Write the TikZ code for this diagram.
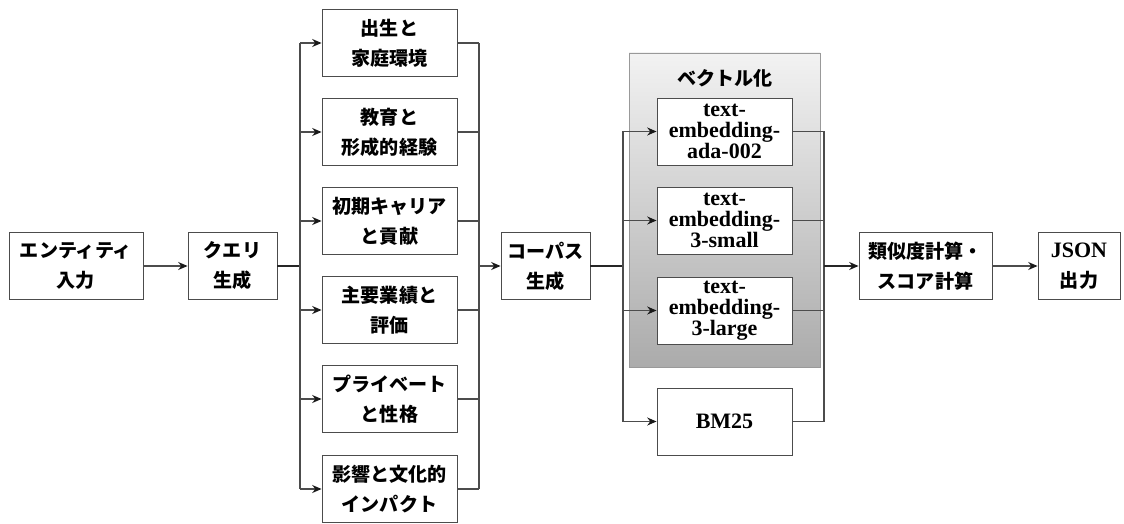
\documentclass[tikz,border=0pt]{standalone}
\usepackage{fontspec}
\setmainfont{Liberation Serif}
\newfontfamily\cjk{Noto Sans CJK JP}
\usetikzlibrary{arrows.meta}
\tikzset{
  box/.style={draw=black!70, line width=0.7pt, fill=white, align=center, inner sep=0pt,
    minimum width=101.25pt, minimum height=50.25pt,
    font=\cjk\bfseries\fontsize{14.3}{22.5}\selectfont},
  lat/.style={font=\rmfamily\bfseries\fontsize{16.5}{15.8}\selectfont},
  conn/.style={draw=black!70, line width=0.8pt},
  arr/.style={conn, -{Stealth[length=7pt,width=6pt,color=black!90]}},
}
\begin{document}
\begin{tikzpicture}[x=0.75pt,y=-0.75pt]
\useasboundingbox (0,0) rectangle (1124,524);
% group
\draw[draw=black!40, line width=0.7pt, top color=black!5, bottom color=black!33] (629,53) rectangle (820,367);
\node[font=\cjk\bfseries\fontsize{14.3}{16}\selectfont] (title) at (725,78) {ベクトル化};
% left
\node[box, minimum width=100.5pt] (ent) at (76,266) {エンティティ\\入力};
\node[box, minimum width=66.75pt] (q) at (232.5,266) {クエリ\\生成};
% column
\node[box] (c1) at (389.5,43) {出生と\\家庭環境};
\node[box] (c2) at (389.5,132) {教育と\\形成的経験};
\node[box] (c3) at (389.5,221) {初期キャリア\\と貢献};
\node[box] (c4) at (389.5,310) {主要業績と\\評価};
\node[box] (c5) at (389.5,399) {プライベート\\と性格};
\node[box] (c6) at (389.5,489) {影響と文化的\\インパクト};
\node[box, minimum width=66.75pt] (corp) at (545.5,266) {コーパス\\生成};
% vector
\node[box, lat] (v1) at (724.5,131.5) {text-\\embedding-\\ada-002};
\node[box, lat] (v2) at (724.5,220.5) {text-\\embedding-\\3-small};
\node[box, lat] (v3) at (724.5,310.5) {text-\\embedding-\\3-large};
\node[box, lat] (v4) at (724.5,421.5) {BM25};
\node[box, minimum width=99.75pt] (sim) at (925.5,266) {類似度計算・\\スコア計算};
\node[box, minimum width=61.5pt] (json) at (1079,266) {{\rmfamily\bfseries\fontsize{16.5}{16}\selectfont JSON}\\出力};
% coordinates
\coordinate (t1) at (300,266);
\coordinate (m1) at (479,266);
\coordinate (t2) at (623,266);
\coordinate (m2) at (824,266);
% connectors
\draw[arr] (ent) -- (q);
\draw[conn, line width=1.1pt, draw=black!85] (q.east) -- (t1);
\draw[conn] (t1|-c1.west) -- (t1|-c6.west);
\foreach \n in {c1,c2,c3,c4,c5,c6}{
  \draw[arr] (t1|-\n.west) -- (\n.west);
  \draw[conn] (\n.east) -- (m1|-\n.east);
}
\draw[conn] (m1|-c1.east) -- (m1|-c6.east);
\draw[arr] (m1) -- (corp);
\draw[conn, line width=1.1pt, draw=black!85] (corp.east) -- (t2);
\draw[conn] (t2|-v1.west) -- (t2|-v4.west);
\foreach \n in {v1,v2,v3,v4}{
  \draw[arr] (t2|-\n.west) -- (\n.west);
  \draw[conn] (\n.east) -- (m2|-\n.east);
}
\draw[conn] (m2|-v1.east) -- (m2|-v4.east);
\draw[arr, line width=1.1pt, draw=black!85] (m2) -- (sim);
\draw[arr] (sim) -- (json);
\end{tikzpicture}
\end{document}
